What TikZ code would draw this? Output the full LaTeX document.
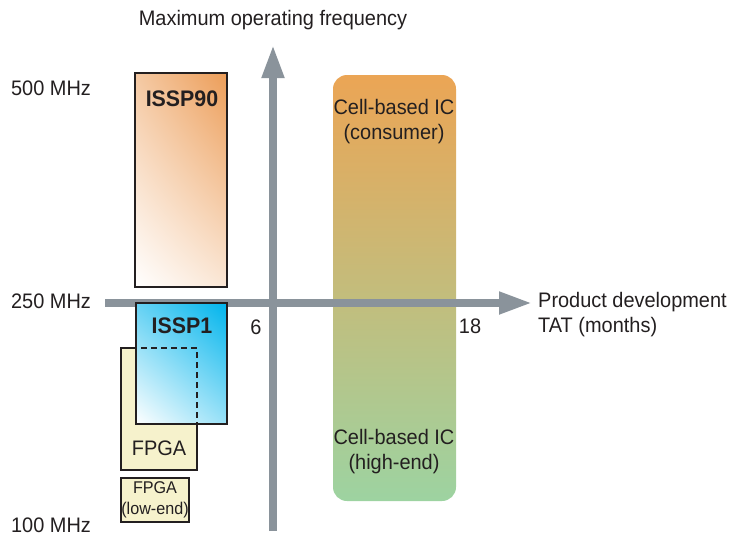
\documentclass[tikz,border=0pt]{standalone}
\usepackage{fontspec}
\setmainfont{Liberation Sans}[FakeStretch=0.95]
\usetikzlibrary{arrows.meta,shadings}

\definecolor{axisgray}{RGB}{138,147,155}
\definecolor{boxline}{RGB}{35,31,32}
\definecolor{textcol}{RGB}{35,31,32}
\definecolor{issporange}{RGB}{236,157,88}
\definecolor{isspcyan}{RGB}{0,180,236}
\definecolor{fpgafill}{RGB}{246,242,204}
\definecolor{celltop}{RGB}{235,165,85}
\definecolor{cellbot}{RGB}{157,211,161}

\tikzset{
    box/.style={draw=boxline, line width=1.8pt},
    txt/.style={font=\fontsize{21}{25}\selectfont, text=textcol, align=center, inner sep=0pt},
    bold/.style={font=\fontsize{22.5}{26}\selectfont\bfseries, text=textcol, inner sep=0pt},
    small/.style={font=\fontsize{17}{20.5}\selectfont, text=textcol, align=center, inner sep=0pt},
    axis/.style={draw=axisgray, line width=7.5pt, -{Triangle[length=33pt,width=21pt]}}
}

\begin{document}
\begin{tikzpicture}[x=1pt, y=-1pt]
        \useasboundingbox (0,0) rectangle (745,538);

        \shade[top color=celltop, bottom color=cellbot, rounded corners=14pt] (333,75) rectangle (456,501); % cell-based IC

        \coordinate (ybot) at (273,531);
        \coordinate (ytop) at (273,45);
        \coordinate (xleft) at (105,303);
        \coordinate (xright) at (532,303);
        \draw[axis] (ybot) -- (ytop); % frequency
        \draw[axis] (xleft) -- (xright); % TAT

        \draw[box, fill=fpgafill] (121,348) rectangle (197,470); % fpga
        \shade[upper right=isspcyan, upper left=isspcyan!60!white, lower right=isspcyan!40!white, lower left=white] (136,303) rectangle (227,424); % issp1
        \draw[box] (136,303) rectangle (227,424);
        \draw[boxline, line width=1.8pt, dash pattern=on 6pt off 4pt] (121,348) -- (197,348) -- (197,424); % fpga behind issp1
        \shade[upper right=issporange, upper left=issporange!55!white, lower right=issporange!25!white, lower left=white] (135,73) rectangle (227,287); % issp90
        \draw[box] (135,73) rectangle (227,287);
        \draw[box, fill=fpgafill] (121,478) rectangle (189,522); % fpga low-end

        \node (ylabel) at (273,20) [txt]{Maximum operating frequency};
        \node (xlabel) at (538,315) [txt, anchor=west, align=left]{Product development\\TAT (months)};
        \node (f500) at (51,88) [txt]{500 MHz};
        \node (f250) at (51,301) [txt]{250 MHz};
        \node (f100) at (51,525) [txt]{100 MHz};
        \node (t6) at (256,327) [txt]{6};
        \node (t18) at (470,326) [txt]{18};

        \node (issp90) at (182,99) [bold]{ISSP90};
        \node (issp1) at (182,326) [bold]{ISSP1};
        \node (fpga) at (159,448) [txt]{FPGA};
        \node (fpgalow) at (155,500) [small]{FPGA\\(low-end)};
        \node (consumer) at (394,122) [txt]{Cell-based IC\\(consumer)};
        \node (highend) at (394,452) [txt]{Cell-based IC\\(high-end)};
\end{tikzpicture}
\end{document}
